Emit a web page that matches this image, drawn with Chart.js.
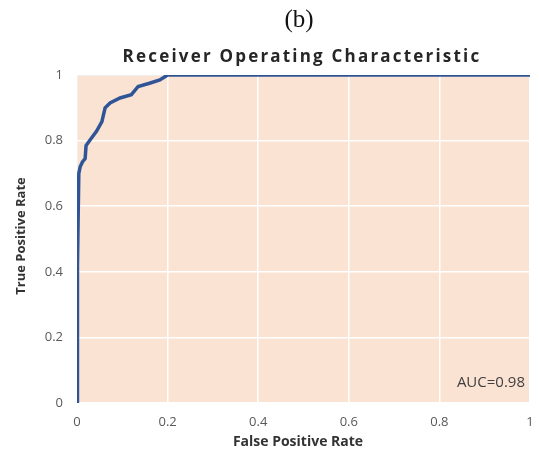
<!DOCTYPE html>
<html>
<head>
<meta charset="utf-8">
<script src="https://cdn.jsdelivr.net/npm/chart.js@4/dist/chart.umd.min.js"></script>
<style>
  html, body { margin: 0; padding: 0; background: #ffffff; }
  #wrap { width: 539px; height: 454px; position: relative; }
</style>
</head>
<body>
<div id="wrap"><canvas id="roc" width="539" height="454"></canvas></div>
<script>
// ROC curve: false positive rate vs true positive rate
const fpr = [0, 0.001, 0.004, 0.007, 0.012, 0.018, 0.020, 0.032, 0.043, 0.055, 0.062, 0.073, 0.095, 0.120, 0.135, 0.160, 0.183, 0.200, 1.0];
const tpr = [0, 0.420, 0.700, 0.720, 0.735, 0.745, 0.785, 0.808, 0.828, 0.858, 0.900, 0.915, 0.930, 0.940, 0.965, 0.975, 0.985, 1.000, 1.0];
const axisTicks = [0, 0.2, 0.4, 0.6, 0.8, 1];
const aucValue = 0.98;

const panelLabel = '(b)';
const chartTitle = 'Receiver Operating Characteristic';
const xTitle = 'False Positive Rate';
const yTitle = 'True Positive Rate';

const points = fpr.map((x, i) => ({ x: x, y: tpr[i] }));

const plotBg = {
  id: 'plotBg',
  beforeDraw(chart) {
    const { ctx, chartArea: a } = chart;
    ctx.save();
    ctx.fillStyle = '#fbe3d4';
    ctx.fillRect(a.left, a.top, a.right - a.left, a.bottom - a.top);
    ctx.strokeStyle = '#e4dcd8';
    ctx.lineWidth = 1;
    ctx.strokeRect(a.left + 0.5, a.top + 0.5, a.right - a.left - 1, a.bottom - a.top - 1);
    ctx.restore();
  }
};

const labels = {
  id: 'labels',
  afterDraw(chart) {
    const { ctx, chartArea: a } = chart;
    ctx.save();
    ctx.textAlign = 'center';
    ctx.textBaseline = 'middle';

    ctx.fillStyle = '#111111';
    ctx.font = '25px "Liberation Serif", serif';
    ctx.fillText(panelLabel, 299, 20);

    ctx.fillStyle = '#262626';
    ctx.font = 'bold 17px "Open Sans", sans-serif';
    ctx.letterSpacing = '2.2px';
    ctx.fillText(chartTitle, 302, 57);
    ctx.letterSpacing = '0px';

    ctx.font = 'bold 14px "Open Sans", sans-serif';
    ctx.fillStyle = '#333333';
    ctx.fillText(xTitle, 298, 442);

    ctx.save();
    ctx.translate(21, 236);
    ctx.rotate(-Math.PI / 2);
    ctx.font = 'bold 13px "Open Sans", sans-serif';
    ctx.fillText(yTitle, 0, 0);
    ctx.restore();

    ctx.textAlign = 'right';
    ctx.font = '15px "Open Sans", sans-serif';
    ctx.fillStyle = '#404040';
    ctx.fillText('AUC=' + aucValue, a.right - 5, a.bottom - 20);
    ctx.restore();
  }
};

const tickFont = { family: '"Open Sans", sans-serif', size: 13 };

new Chart(document.getElementById('roc'), {
  type: 'scatter',
  data: {
    datasets: [{
      data: points,
      showLine: true,
      borderColor: '#2f5597',
      borderWidth: 3.5,
      pointRadius: 0,
      fill: false,
      tension: 0
    }]
  },
  options: {
    responsive: false,
    animation: false,
    layout: { padding: { left: 0, right: 0, top: 75, bottom: 0 } },
    plugins: {
      legend: { display: false },
      tooltip: { enabled: false },
      title: { display: false }
    },
    scales: {
      x: {
        type: 'linear',
        min: 0, max: 1,
        afterFit(s) { s.height = 51; s.paddingRight = 9; },
        afterBuildTicks(s) { s.ticks = axisTicks.map(v => ({ value: v })); },
        grid: { color: '#ffffff', lineWidth: 1.5, drawTicks: false },
        border: { display: false },
        ticks: {
          font: tickFont, color: '#595959', padding: 11, maxRotation: 0,
          callback: v => String(v)
        }
      },
      y: {
        type: 'linear',
        min: 0, max: 1,
        afterFit(s) { s.width = 77; },
        afterBuildTicks(s) { s.ticks = axisTicks.map(v => ({ value: v })); },
        grid: { color: '#ffffff', lineWidth: 1.5, drawTicks: false },
        border: { display: false },
        ticks: {
          font: tickFont, color: '#595959', padding: 14,
          callback: v => String(v)
        }
      }
    }
  },
  plugins: [plotBg, labels]
});
</script>
</body>
</html>
